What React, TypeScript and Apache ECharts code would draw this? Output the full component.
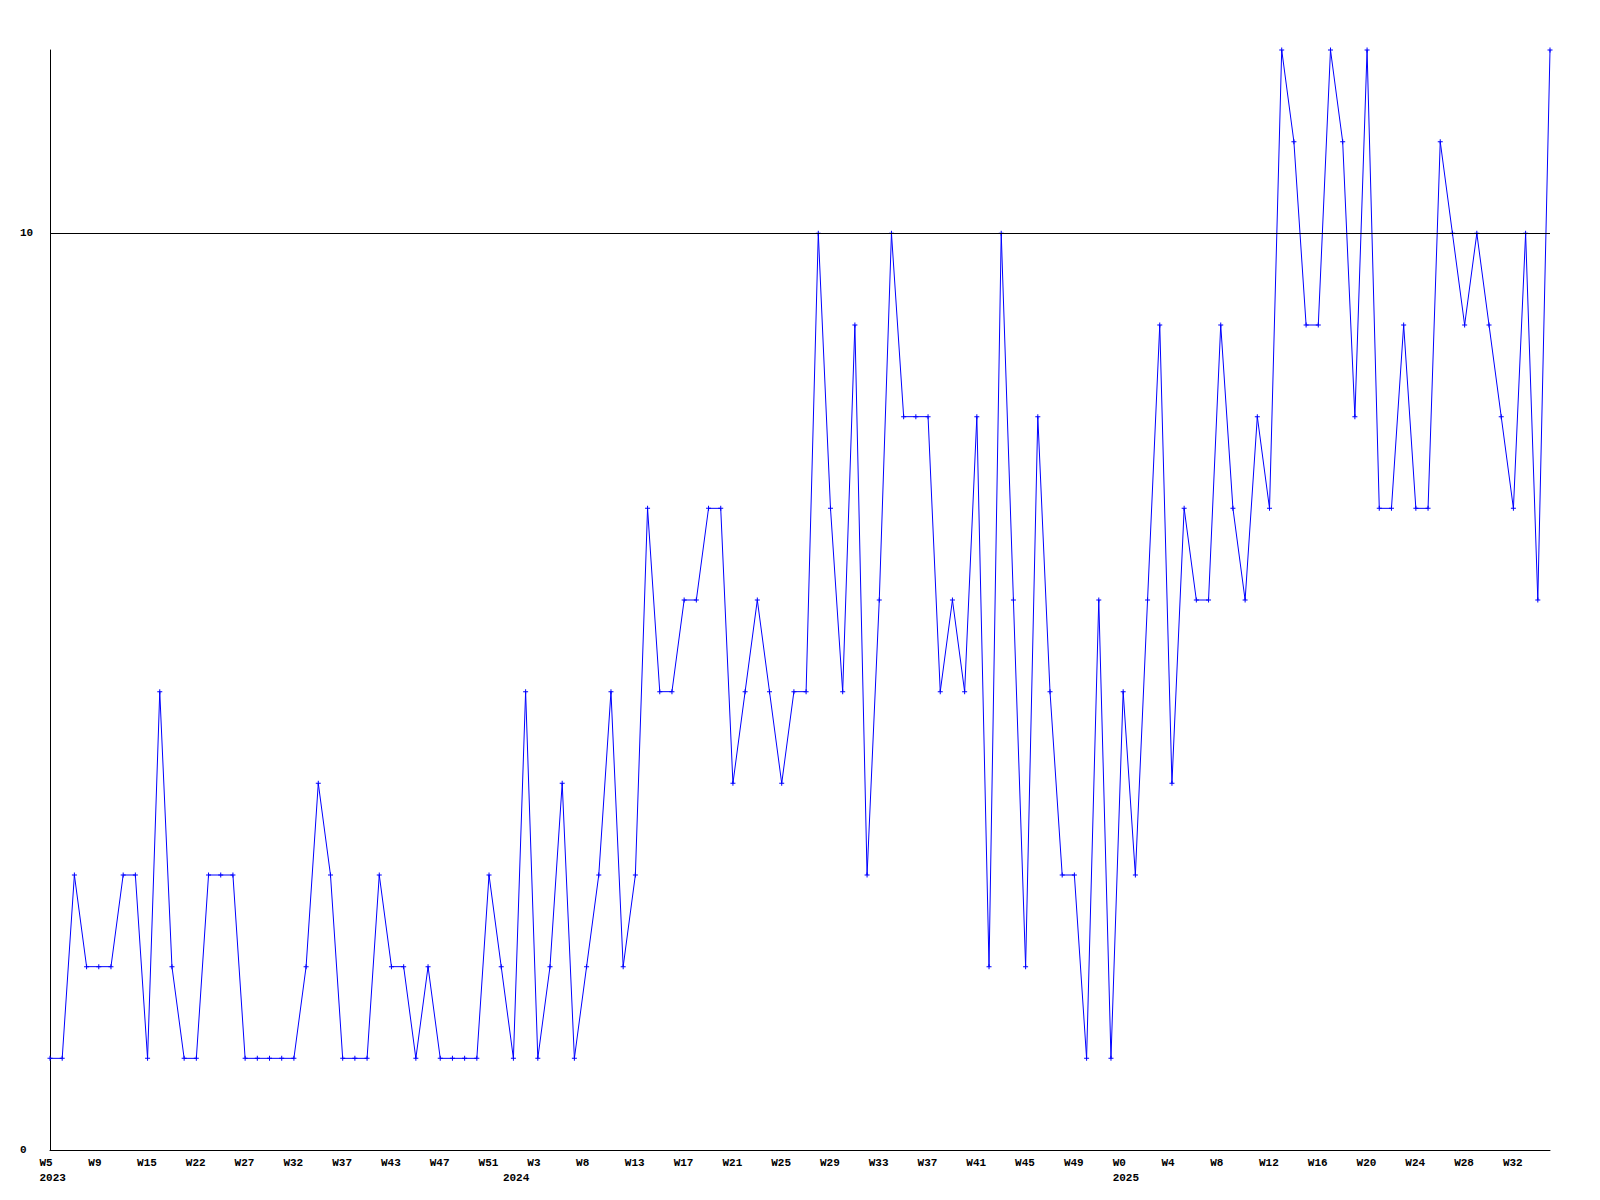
import React, { useEffect, useRef } from "react";
import * as echarts from "echarts";

// Weekly values, one per point
const values: number[] = [
  1, 1, 3, 2, 2, 2, 3, 3, 1, 5,
  2, 1, 1, 3, 3, 3, 1, 1, 1, 1,
  1, 2, 4, 3, 1, 1, 1, 3, 2, 2,
  1, 2, 1, 1, 1, 1, 3, 2, 1, 5,
  1, 2, 4, 1, 2, 3, 5, 2, 3, 7,
  5, 5, 6, 6, 7, 7, 4, 5, 6, 5,
  4, 5, 5, 10, 7, 5, 9, 3, 6, 10,
  8, 8, 8, 5, 6, 5, 8, 2, 10, 6,
  2, 8, 5, 3, 3, 1, 6, 1, 5, 3,
  6, 9, 4, 7, 6, 6, 9, 7, 6, 8,
  7, 12, 11, 9, 9, 12, 11, 8, 12, 7,
  7, 9, 7, 7, 11, 10, 9, 10, 9, 8,
  7, 10, 6, 12,
];

// Tick labels shown every 4th point
const tickLabels: string[] = [
  "W5", "W9", "W15", "W22", "W27", "W32", "W37", "W43", "W47", "W51",
  "W3", "W8", "W13", "W17", "W21", "W25", "W29", "W33", "W37", "W41",
  "W45", "W49", "W0", "W4", "W8", "W12", "W16", "W20", "W24", "W28", "W32",
];
const tickStep = 4;
// Year labels sit under the first week of each year (point index)
const yearPointIndex: number[] = [0, 38, 88];
const yearLabels: string[] = ["2023", "2024", "2025"];

const categories: string[] = values.map((_, i) =>
  i % tickStep === 0 ? tickLabels[i / tickStep] ?? "" : ""
);
const yearCategories: string[] = values.map((_, i) => {
  const k = yearPointIndex.indexOf(i);
  return k >= 0 ? yearLabels[k] : "";
});

const FONT = "'Liberation Mono', 'DejaVu Sans Mono', monospace";

const richA = {
  width: 21,
  align: "left",
  lineHeight: 15,
  fontFamily: FONT,
  fontWeight: "bold",
  fontSize: 11,
  color: "#000",
};

export default function App() {
  const ref = useRef<HTMLDivElement>(null);
  useEffect(() => {
    if (!ref.current) return;
    const chart = echarts.init(ref.current, null, { renderer: "svg" });
    chart.setOption({
      animation: false,
      backgroundColor: "#ffffff",
      grid: { left: 50, right: 50, top: 50, bottom: 50, containLabel: false },
      xAxis: [
        {
          type: "category",
          data: categories,
          boundaryGap: false,
          axisLine: { show: true, lineStyle: { color: "#000", width: 1 } },
          axisTick: { show: false },
          splitLine: { show: false },
          axisLabel: {
            interval: tickStep - 1,
            align: "center",
            margin: 5,
            formatter: (value: string) => `{a|${value}}`,
            rich: { a: richA },
          },
        },
        {
          type: "category",
          position: "bottom",
          data: yearCategories,
          boundaryGap: false,
          axisLine: { show: false },
          axisTick: { show: false },
          splitLine: { show: false },
          axisLabel: {
            interval: 0,
            align: "center",
            margin: 20,
            formatter: (value: string) => (value ? `{a|${value}}` : ""),
            rich: { a: richA },
          },
        },
      ],
      yAxis: {
        type: "value",
        min: 0,
        max: 12,
        interval: 10,
        axisLine: { show: true, lineStyle: { color: "#000", width: 1 } },
        axisTick: { show: false },
        splitLine: { show: false },
        axisLabel: {
          showMaxLabel: false,
          align: "left",
          margin: 30,
          fontFamily: FONT,
          fontWeight: "bold",
          fontSize: 11,
          color: "#000",
        },
      },
      series: [
        {
          type: "line",
          xAxisIndex: 0,
          data: values,
          symbol: "path://M2,0H3V2H5V3H3V5H2V3H0V2H2Z",
          symbolSize: 5,
          showSymbol: true,
          itemStyle: { color: "#0000ff" },
          lineStyle: { color: "#0000ff", width: 1 },
          markLine: {
            silent: true,
            symbol: ["none", "none"],
            label: { show: false },
            lineStyle: { color: "#000", type: "solid", width: 1 },
            data: [{ yAxis: 10 }],
          },
        },
      ],
    });
    return () => chart.dispose();
  }, []);
  return (
    <div
      ref={ref}
      style={{ position: "absolute", left: 0, top: 0, width: 1600, height: 1200 }}
    />
  );
}
